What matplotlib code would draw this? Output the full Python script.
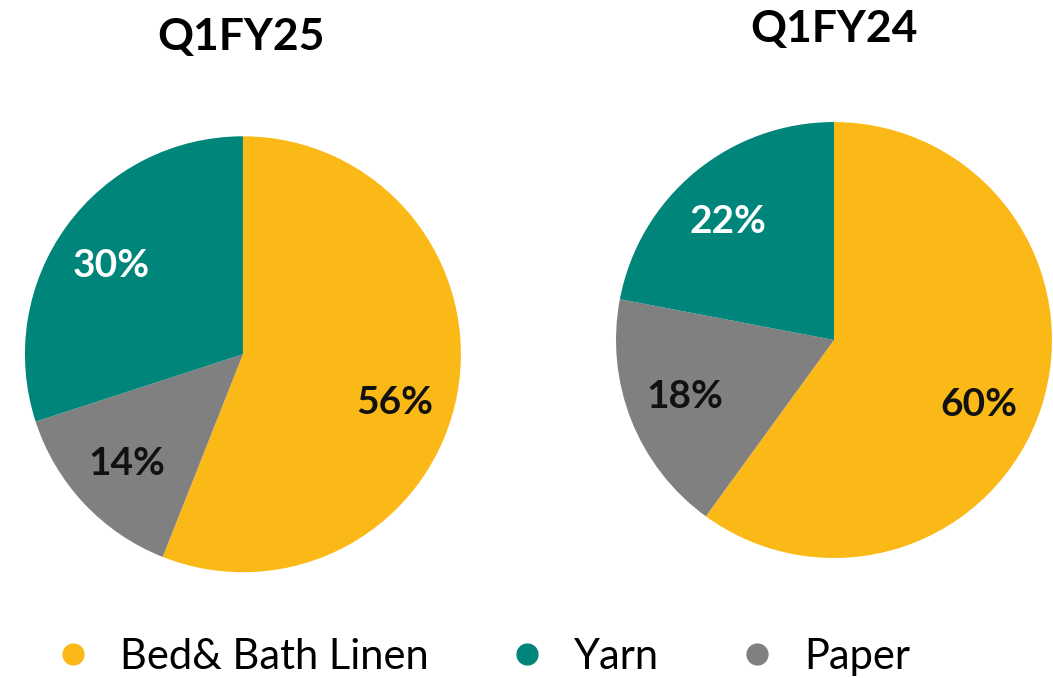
import matplotlib.pyplot as plt
from matplotlib.lines import Line2D
import numpy as np

plt.rcParams['font.family'] = ['Lato', 'DejaVu Sans']

segments = ['Bed& Bath Linen', 'Paper', 'Yarn']
q1fy25 = [56, 14, 30]
q1fy24 = [60, 18, 22]
colors = ['#FBB918', '#808080', '#00857A']
label_colors = ['#111111', '#111111', 'white']

fig = plt.figure(figsize=(10.53, 6.78), dpi=100)

# axes placed so the pies sit where they are in the original slide
ax1 = fig.add_axes([0.0237, 0.156, 0.414, 0.643])
ax2 = fig.add_axes([0.585, 0.177, 0.414, 0.643])

def draw_pie(ax, vals, shifts):
    wedges, _ = ax.pie(vals, colors=colors, startangle=90, counterclock=False,
                       wedgeprops=dict(linewidth=0))
    ax.set_xlim(-1, 1)
    ax.set_ylim(-1, 1)
    ax.set_aspect('equal')
    for w, v, c, s in zip(wedges, vals, label_colors, shifts):
        mid = np.deg2rad((w.theta1 + w.theta2) / 2 + s)
        ax.text(0.73 * np.cos(mid), 0.73 * np.sin(mid), f'{v}%',
                ha='center', va='center', fontsize=28, fontweight='bold', color=c)

draw_pie(ax1, q1fy25, [-7, 0, 2])
draw_pie(ax2, q1fy24, [-6, -1, 2])

fig.text(0.229, 0.945, 'Q1FY25', ha='center', va='center', fontsize=32, fontweight='bold')
fig.text(0.792, 0.957, 'Q1FY24', ha='center', va='center', fontsize=32, fontweight='bold')

order = [0, 2, 1]
handles = [Line2D([], [], marker='o', linestyle='none', markersize=15,
                  markerfacecolor=colors[i], markeredgecolor=colors[i]) for i in order]
fig.legend(handles, [segments[i] for i in order], loc='center', ncol=3,
           bbox_to_anchor=(0.457, 0.031), frameon=False, fontsize=30,
           handlelength=1, handletextpad=0.63, columnspacing=1.85)

plt.savefig('out.png', dpi=100)
